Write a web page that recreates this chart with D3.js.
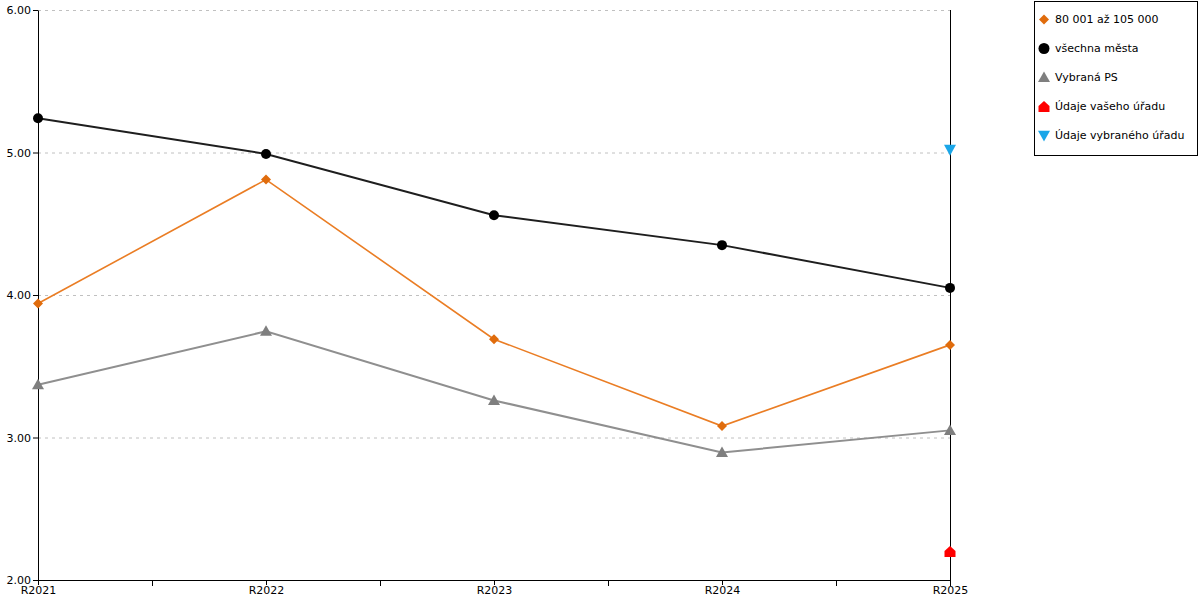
<!DOCTYPE html>
<html><head><meta charset="utf-8">
<script src="https://cdn.jsdelivr.net/npm/d3@7"></script>
<style>
body{margin:0;background:#fff;}
svg{display:block;font-family:"DejaVu Sans",Verdana,sans-serif;}
</style></head>
<body>
<svg id="c" width="1200" height="600"></svg>
<script>
const categories = ["R2021","R2022","R2023","R2024","R2025"];
const yTicks = [2,3,4,5,6];
const seriesNames = ["80 001 až 105 000","všechna města","Vybraná PS","Údaje vašeho úřadu","Údaje vybraného úřadu"];
const orangeValues = [3.94,4.81,3.69,3.08,3.65];
const blackValues = [5.24,4.99,4.56,4.35,4.05];
const grayValues = [3.37,3.745,3.26,2.895,3.05];
const redValues = [null,null,null,null,2.20];
const blueValues = [null,null,null,null,5.02];

(function(){
const svg = d3.select("#c");
const pL=38,pR=950,pT=10,pB=580;
const x = d3.scalePoint().domain(categories).range([pL,pR]);
const y = d3.scaleLinear().domain([2,6]).range([pB,pT]);

// grid
svg.append("g").selectAll("line").data(yTicks.filter(d=>d>2)).join("line")
 .attr("x1",pL).attr("x2",pR).attr("y1",d=>y(d)+0.5).attr("y2",d=>y(d)+0.5)
 .attr("stroke","#c0c0c0").attr("stroke-dasharray","3,4");

// y axis
const ya = svg.append("g").attr("transform",`translate(${pL},0)`)
 .call(d3.axisLeft(y).tickValues(yTicks).tickFormat(d3.format(".2f")).tickSize(5).tickSizeOuter(0).offset(0.5));
ya.select(".domain").attr("stroke","#000");
ya.selectAll(".tick line").attr("stroke","#000");
ya.selectAll(".tick text").attr("font-size",11).attr("fill","#000").attr("x",-7).attr("font-family","DejaVu Sans, Verdana, sans-serif");

// x axis
const xa = svg.append("g").attr("transform",`translate(0,${pB})`)
 .call(d3.axisBottom(x).tickSize(5).tickSizeOuter(0).offset(0.5));
xa.select(".domain").attr("d",`M${pL},0.5H${pR}`).attr("stroke","#000");
xa.selectAll(".tick line").attr("stroke","#000");
xa.selectAll(".tick text").attr("font-size",11).attr("fill","#000").attr("y",6).attr("font-family","DejaVu Sans, Verdana, sans-serif");
// minor ticks between categories
const mids = categories.slice(0,-1).map((c,i)=>(x(c)+x(categories[i+1]))/2);
svg.append("g").selectAll("line").data(mids).join("line")
 .attr("x1",d=>Math.round(d)+0.5).attr("x2",d=>Math.round(d)+0.5).attr("y1",pB).attr("y2",pB+6).attr("stroke","#000");

// right vertical line
svg.append("line").attr("x1",pR+0.5).attr("x2",pR+0.5).attr("y1",pT).attr("y2",pB+6).attr("stroke","#000");

const line = d3.line().defined(d=>d!=null).x((d,i)=>x(categories[i])).y(d=>y(d));
function drawLine(vals,color,w){
  svg.append("path").datum(vals).attr("d",line).attr("fill","none").attr("stroke",color).attr("stroke-width",w);
}
drawLine(grayValues,"#8f8f8f",2);
drawLine(orangeValues,"#ea7d24",1.6);
drawLine(blackValues,"#1e1e1e",2);

const shapes = {
  diamond: s=>`M0,${-s}L${s},0L0,${s}L${-s},0Z`,
  circle: s=>`M${s},0A${s},${s} 0 1,1 ${-s},0A${s},${s} 0 1,1 ${s},0Z`,
  tri: s=>`M0,${-s}L${s},${s*0.75}L${-s},${s*0.75}Z`,
  house: s=>`M0,${-s}L${s},${-s*0.1}L${s},${s}L${-s},${s}L${-s},${-s*0.1}Z`,
  tridown: s=>`M${-s},${-s*0.8}L${s},${-s*0.8}L0,${s}Z`
};
function drawMarks(vals,shape,size,color){
  svg.append("g").selectAll("path").data(vals.map((v,i)=>({v,c:categories[i]})).filter(d=>d.v!=null)).join("path")
   .attr("transform",d=>`translate(${x(d.c)},${y(d.v)})`).attr("d",shapes[shape](size)).attr("fill",color);
}
drawMarks(grayValues,"tri",6,"#7f7f7f");
drawMarks(orangeValues,"diamond",5,"#e06c0c");
drawMarks(blackValues,"circle",5,"#000");
drawMarks(redValues,"house",5.5,"#ff0000");
drawMarks(blueValues,"tridown",6,"#1aa6e8");

// legend
const lg = svg.append("g");
lg.append("rect").attr("x",1034.5).attr("y",1.5).attr("width",163).attr("height",154).attr("fill","#fff").attr("stroke","#000");
const legItems = [
  {shape:"diamond",size:5,color:"#e06c0c"},
  {shape:"circle",size:5.5,color:"#000"},
  {shape:"tri",size:6,color:"#7f7f7f"},
  {shape:"house",size:5.5,color:"#ff0000"},
  {shape:"tridown",size:6,color:"#1aa6e8"}
];
seriesNames.forEach((n,i)=>{
  const yy = 19.5 + i*29;
  lg.append("path").attr("transform",`translate(1044,${yy})`).attr("d",shapes[legItems[i].shape](legItems[i].size)).attr("fill",legItems[i].color);
  lg.append("text").attr("x",1055).attr("y",yy).attr("dy","0.35em").attr("font-size",11).attr("fill","#000").text(n);
});
})();
</script>
</body></html>
